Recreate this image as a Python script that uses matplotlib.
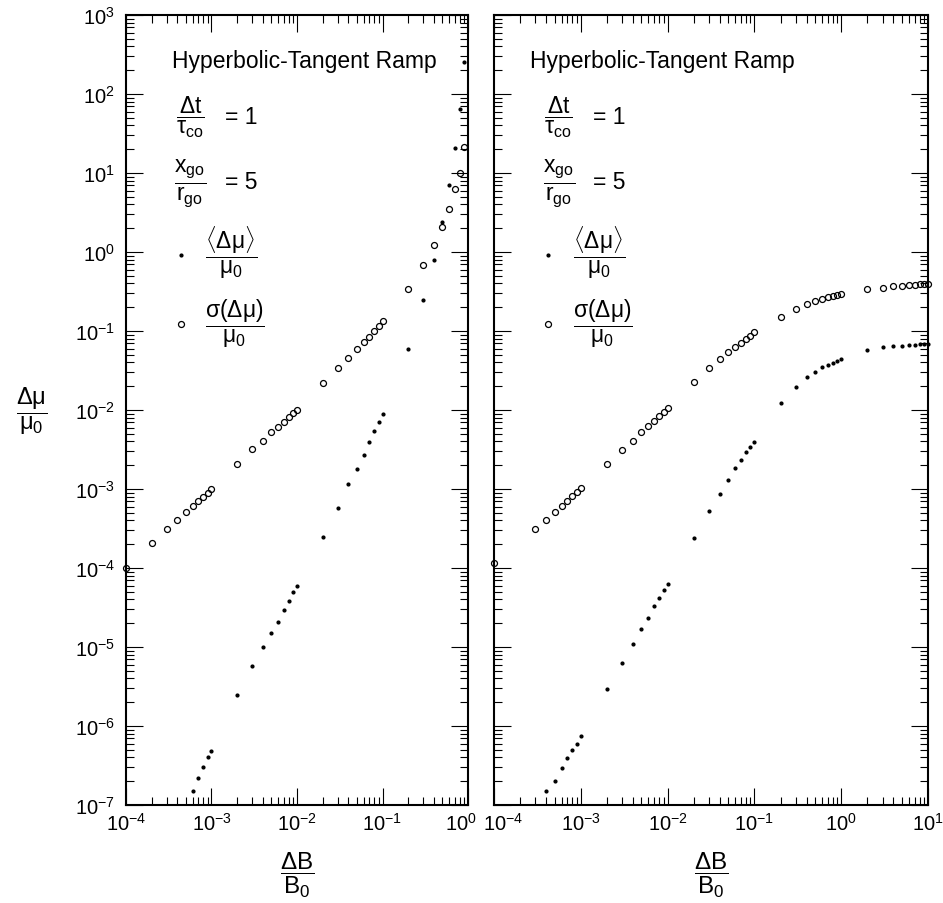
"""
Hyperbolic-tangent ramp: relative change of the magnetic moment
versus the relative field jump, two panels on log-log axes.
"""

import numpy as np
import matplotlib
matplotlib.use("Agg")
import matplotlib.pyplot as plt
from matplotlib.lines import Line2D
from matplotlib.ticker import LogLocator, NullFormatter
from matplotlib.transforms import ScaledTranslation

plt.rcParams["font.family"] = ["Liberation Sans", "DejaVu Sans"]
plt.rcParams["mathtext.fontset"] = "custom"
plt.rcParams["mathtext.rm"] = "Liberation Sans"
plt.rcParams["mathtext.it"] = "Liberation Sans"
plt.rcParams["mathtext.sf"] = "Liberation Sans"
plt.rcParams["mathtext.bf"] = "Liberation Sans:bold"
plt.rcParams["mathtext.default"] = "rm"

# ── data ─────────────────────────────────────────────────
# left panel (dB/B0 up to 1)
LEFT_SIG_X = [1e-4, 2e-4, 3e-4, 4e-4, 5e-4, 6e-4, 7e-4, 8e-4, 9e-4, 1e-3,
              2e-3, 3e-3, 4e-3, 5e-3, 6e-3, 7e-3, 8e-3, 9e-3, 1e-2,
              2e-2, 3e-2, 4e-2, 5e-2, 6e-2, 7e-2, 8e-2, 9e-2, 1e-1,
              0.2, 0.3, 0.4, 0.5, 0.6, 0.7, 0.8, 0.9]
LEFT_SIG_Y = [1.0e-4, 2.1e-4, 3.1e-4, 4.1e-4, 5.1e-4, 6.1e-4, 7.05e-4, 8.0e-4, 9.0e-4, 9.9e-4,
              2.1e-3, 3.2e-3, 4.1e-3, 5.2e-3, 6.1e-3, 7.05e-3, 8.1e-3, 9.2e-3, 1.01e-2,
              2.2e-2, 3.4e-2, 4.6e-2, 6.0e-2, 7.3e-2, 8.3e-2, 0.100, 0.116, 0.134,
              0.34, 0.69, 1.21, 2.07, 3.5, 6.2, 9.9, 21.4]
LEFT_MEAN_X = [6e-4, 7e-4, 8e-4, 9e-4, 1e-3,
               2e-3, 3e-3, 4e-3, 5e-3, 6e-3, 7e-3, 8e-3, 9e-3, 1e-2,
               2e-2, 3e-2, 4e-2, 5e-2, 6e-2, 7e-2, 8e-2, 9e-2, 1e-1,
               0.2, 0.3, 0.4, 0.5, 0.6, 0.7, 0.8, 0.9]
LEFT_MEAN_Y = [1.5e-7, 2.2e-7, 3.0e-7, 4.0e-7, 4.8e-7,
               2.5e-6, 5.8e-6, 1.0e-5, 1.5e-5, 2.1e-5, 2.9e-5, 3.8e-5, 4.9e-5, 6.0e-5,
               2.5e-4, 5.8e-4, 1.15e-3, 1.78e-3, 2.7e-3, 3.9e-3, 5.4e-3, 7.1e-3, 8.9e-3,
               0.060, 0.245, 0.80, 2.4, 7.1, 21.0, 65.0, 254.0]

# right panel (dB/B0 up to 10)
RIGHT_SIG_X = [1e-4, 3e-4, 4e-4, 5e-4, 6e-4, 7e-4, 8e-4, 9e-4, 1e-3,
               2e-3, 3e-3, 4e-3, 5e-3, 6e-3, 7e-3, 8e-3, 9e-3, 1e-2,
               2e-2, 3e-2, 4e-2, 5e-2, 6e-2, 7e-2, 8e-2, 9e-2, 1e-1,
               0.2, 0.3, 0.4, 0.5, 0.6, 0.7, 0.8, 0.9, 1.0,
               2.0, 3.0, 4.0, 5.0, 6.0, 7.0, 8.0, 9.0, 10.0]
RIGHT_SIG_Y = [1.17e-4, 3.1e-4, 4.1e-4, 5.1e-4, 6.1e-4, 7.1e-4, 8.05e-4, 9.1e-4, 1.02e-3,
               2.1e-3, 3.15e-3, 4.1e-3, 5.2e-3, 6.3e-3, 7.3e-3, 8.3e-3, 9.3e-3, 1.05e-2,
               2.24e-2, 3.4e-2, 4.4e-2, 5.35e-2, 6.3e-2, 7.1e-2, 7.9e-2, 8.6e-2, 9.6e-2,
               0.149, 0.19, 0.22, 0.24, 0.255, 0.27, 0.28, 0.288, 0.295,
               0.345, 0.355, 0.367, 0.374, 0.38, 0.385, 0.39, 0.39, 0.395]
RIGHT_MEAN_X = [4e-4, 5e-4, 6e-4, 7e-4, 8e-4, 9e-4, 1e-3,
                2e-3, 3e-3, 4e-3, 5e-3, 6e-3, 7e-3, 8e-3, 9e-3, 1e-2,
                2e-2, 3e-2, 4e-2, 5e-2, 6e-2, 7e-2, 8e-2, 9e-2, 1e-1,
                0.2, 0.3, 0.4, 0.5, 0.6, 0.7, 0.8, 0.9, 1.0,
                2.0, 3.0, 4.0, 5.0, 6.0, 7.0, 8.0, 9.0, 10.0]
RIGHT_MEAN_Y = [1.5e-7, 2.0e-7, 2.9e-7, 3.9e-7, 5.0e-7, 6.0e-7, 7.4e-7,
                2.9e-6, 6.2e-6, 1.09e-5, 1.69e-5, 2.34e-5, 3.27e-5, 4.17e-5, 5.2e-5, 6.3e-5,
                2.37e-4, 5.2e-4, 8.7e-4, 1.3e-3, 1.82e-3, 2.34e-3, 2.9e-3, 3.4e-3, 3.9e-3,
                1.21e-2, 1.97e-2, 2.6e-2, 3.0e-2, 3.5e-2, 3.7e-2, 3.95e-2, 4.2e-2, 4.45e-2,
                5.7e-2, 6.2e-2, 6.4e-2, 6.5e-2, 6.6e-2, 6.7e-2, 6.8e-2, 6.8e-2, 6.9e-2]

TITLE = "Hyperbolic-Tangent Ramp"
MEAN_LABEL = r"$\dfrac{\langle\Delta\mu\rangle}{\mu_0}$"
SIG_LABEL = r"$\dfrac{\sigma(\Delta\mu)}{\mu_0}$"

DOT = dict(marker="o", ms=2.0, color="black", ls="none", clip_on=False)
CIRCLE = dict(marker="o", ms=4.3, mfc="none", mec="black", mew=0.9, ls="none", clip_on=False)


# ─────────────────────────────────────────────────────────
def _style_axes(ax, xmax):
    ax.set_xscale("log")
    ax.set_yscale("log")
    ax.set_xlim(1e-4, xmax)
    ax.set_ylim(1e-7, 1e3)
    for axis in (ax.xaxis, ax.yaxis):
        axis.set_major_locator(LogLocator(base=10, numticks=30))
        axis.set_minor_locator(LogLocator(base=10, subs=np.arange(2, 10), numticks=30))
        axis.set_minor_formatter(NullFormatter())
    ax.tick_params(which="both", direction="in", top=True, right=True, width=0.8)
    ax.tick_params(which="major", length=12, labelsize=14.5)
    ax.tick_params(which="minor", length=6)
    ax.tick_params(axis="x", which="major", pad=5)
    ax.tick_params(axis="y", which="major", pad=8)
    for sp in ax.spines.values():
        sp.set_linewidth(1.5)


def _annotate(ax, x0, params_x, eq_x):
    ax.text(x0, 0.942, TITLE, transform=ax.transAxes, fontsize=16.5,
            ha="left", va="center")
    ax.text(params_x, 0.872, r"$\dfrac{\Delta t}{\tau_{co}}$", transform=ax.transAxes,
            fontsize=16.5, ha="center", va="center")
    ax.text(eq_x, 0.872, "= 1", transform=ax.transAxes, fontsize=16.5, ha="left", va="center")
    ax.text(params_x, 0.789, r"$\dfrac{x_{go}}{r_{go}}$", transform=ax.transAxes,
            fontsize=16.5, ha="center", va="center")
    ax.text(eq_x, 0.789, "= 5", transform=ax.transAxes, fontsize=16.5, ha="left", va="center")


def _legend(ax, anchor):
    handles = [Line2D([], [], **DOT), Line2D([], [], **CIRCLE)]
    ax.legend(handles, [MEAN_LABEL, SIG_LABEL], loc="upper left", bbox_to_anchor=anchor,
              frameon=False, fontsize=16.5, handlelength=0.6, handletextpad=0.75,
              labelspacing=0.75, borderaxespad=0.0)


def _nudge_xlabel(fig, ax, loc, dx_px):
    # shift one edge tick label sideways, as in the original print
    fig.canvas.draw()
    for tick in ax.xaxis.get_major_ticks():
        if np.isclose(tick.get_loc(), loc):
            tr = tick.label1.get_transform()
            tick.label1.set_transform(tr + ScaledTranslation(dx_px / fig.dpi, 0, fig.dpi_scale_trans))


# ─────────────────────────────────────────────────────────
fig = plt.figure(figsize=(9.43, 9.04), dpi=100)
ax_l = fig.add_axes([0.1336, 0.1084, 0.3627, 0.8739])
ax_r = fig.add_axes([0.5239, 0.1084, 0.4602, 0.8739])

# left panel
_style_axes(ax_l, 1e0)
ax_l.plot(LEFT_MEAN_X, LEFT_MEAN_Y, **DOT)
ax_l.plot(LEFT_SIG_X, LEFT_SIG_Y, **CIRCLE)
_annotate(ax_l, 0.134, 0.188, 0.29)
_legend(ax_l, (0.115, 0.748))
ax_l.set_ylabel(r"$\dfrac{\Delta\mu}{\mu_0}$", fontsize=17, rotation=0, ha="center", va="center")
ax_l.yaxis.set_label_coords(-0.275, 0.5)
ax_l.set_xlabel(r"$\dfrac{\Delta B}{B_0}$", fontsize=17.5, labelpad=11)

# right panel
_style_axes(ax_r, 1e1)
ax_r.plot(RIGHT_MEAN_X, RIGHT_MEAN_Y, **DOT)
ax_r.plot(RIGHT_SIG_X, RIGHT_SIG_Y, **CIRCLE)
ax_r.tick_params(labelleft=False)
_annotate(ax_r, 0.083, 0.149, 0.228)
_legend(ax_r, (0.0885, 0.748))
ax_r.set_xlabel(r"$\dfrac{\Delta B}{B_0}$", fontsize=17.5, labelpad=11)

_nudge_xlabel(fig, ax_l, 1e0, -7)
_nudge_xlabel(fig, ax_r, 1e-4, 9)

plt.savefig("out.png", dpi=100)
plt.close()
